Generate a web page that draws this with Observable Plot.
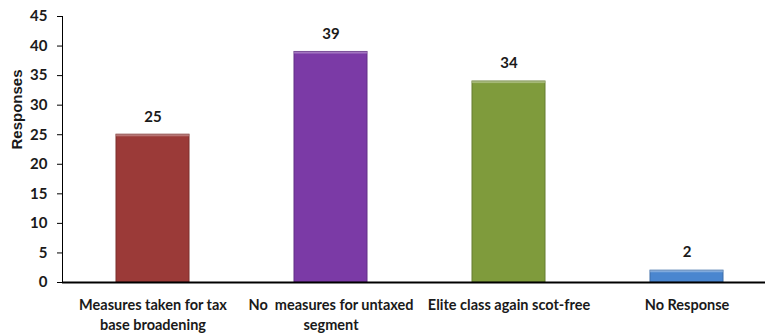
<!DOCTYPE html>
<html>
<head>
<meta charset="utf-8">
<script src="https://cdn.jsdelivr.net/npm/d3@7"></script>
<script src="https://cdn.jsdelivr.net/npm/@observablehq/plot@0.6"></script>
<style>
  html, body { margin: 0; padding: 0; background: #fff; }
  #chart svg { display: block; }
</style>
</head>
<body>
<div id="chart"></div>
<script>
const categories = [
  "Measures taken for tax\nbase broadening",
  "No  measures for untaxed\nsegment",
  "Elite class again scot-free",
  "No Response"
];
const values = [25, 39, 34, 2];
const colors = ["#9b3a38", "#7b3aa6", "#7f9b3c", "#4a86cf"];
const yTicks = [0, 5, 10, 15, 20, 25, 30, 35, 40, 45];

const data = categories.map((c, i) => ({category: c, value: values[i], color: colors[i]}));
const font = "Lato, 'Open Sans', sans-serif";

const plot = Plot.plot({
  width: 765,
  height: 334,
  marginLeft: 62,
  marginRight: 0,
  marginTop: 16,
  marginBottom: 52,
  style: {fontFamily: font, fontWeight: "bold", fontSize: "14px", color: "#1a1a1a", background: "#fff"},
  x: {domain: categories, range: [62, 777], paddingInner: 0.59, paddingOuter: 0.3, label: null},
  y: {domain: [0, 45], ticks: yTicks, label: null},
  marks: [
    Plot.barY(data, {x: "category", y: "value", fill: "color", stroke: d => d3.color(d.color).darker(0.6).formatHex(), strokeWidth: 1}),
    Plot.barY(data, {x: "category", y1: d => d.value, y2: d => d.value - 0.35, fill: "#ffffff", fillOpacity: 0.3}),
    Plot.text(data, {x: "category", y: "value", text: d => String(d.value), dy: -18, fontSize: 15, fontWeight: "bold", fill: "#1a1a1a"}),
    Plot.axisY({ticks: yTicks, tickSize: 5, tickPadding: 10, fontSize: 15, fontWeight: "bold", stroke: "#000", label: null}),
    Plot.frame({anchor: "left", stroke: "#000", strokeWidth: 1}),
    Plot.axisX({tickSize: 0, tickPadding: 13, fontSize: 14.5, fontWeight: "bold", lineHeight: 1.4, label: null}),
    Plot.ruleY([0], {stroke: "#000", strokeWidth: 2}),
    Plot.text(["Responses"], {frameAnchor: "left", dx: -45, rotate: -90, fontFamily: "'Liberation Sans', Arial, sans-serif", fontSize: 15, fontWeight: "bold", fill: "#1a1a1a"})
  ]
});
document.getElementById("chart").appendChild(plot);
</script>
</body>
</html>
